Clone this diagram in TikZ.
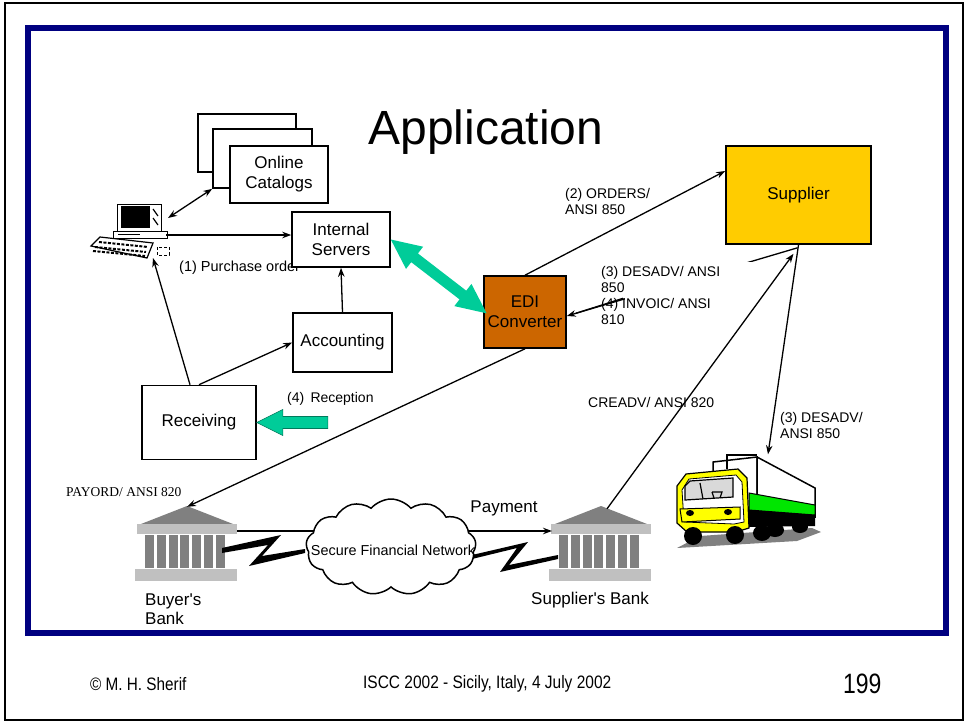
\documentclass[tikz,border=0pt]{standalone}
\usepackage{fontspec}
\setmainfont{Liberation Sans}
\newfontfamily\payfont{Liberation Serif}
\usetikzlibrary{arrows.meta,shapes.symbols,calc}
\definecolor{navyframe}{RGB}{0,0,128}
\definecolor{mint}{RGB}{0,204,153}
\definecolor{ediorange}{RGB}{204,102,0}
\definecolor{supyellow}{RGB}{255,204,0}
\definecolor{bankdark}{RGB}{128,128,128}
\definecolor{banklight}{RGB}{192,192,192}
\definecolor{truckgreen}{RGB}{0,230,0}
\definecolor{truckyellow}{RGB}{255,255,0}
\begin{document}
\begin{tikzpicture}[x=1pt,y=-1pt,
  box/.style={draw, line width=1.6, fill=white, inner sep=0, align=center,
    font=\fontsize{17}{20}\selectfont},
  lbl/.style={inner sep=0, anchor=west, align=left, font=\fontsize{14}{16}\selectfont},
  conn/.style={line width=1.3, -{Stealth[length=9,width=6.5]}},
  biconn/.style={line width=1.3, {Stealth[length=9,width=6.5]}-{Stealth[length=9,width=6.5]}},
  icon/.style={inner sep=0, minimum width=#1},
  bankicon/.pic={
    \fill[bankdark] (0,-39) -- (-46,-21) -- (46,-21) -- cycle;
    \fill[banklight] (-50,-21) rectangle (50,-11);
    \foreach \i in {0,...,6}
      \fill[bankdark] ({-42+\i*11.8},-10) rectangle ({-33+\i*11.8},23);
    \fill[banklight] (-52,24) rectangle (50,36);
  }]
\useasboundingbox (0,0) rectangle (966,723);
\fill[white] (0,0) rectangle (966,723);

% slide frames
\draw[line width=2.5] (5,3) rectangle (963,720);
\draw[navyframe, line width=6] (28,28) rectangle (946,633);

% title
\node[font=\fontsize{48}{52}\selectfont] (title) at (486,132) {Application};

% online catalog stack
\node[box, minimum width=98, minimum height=58] (cat3) at (247,143) {};
\node[box, minimum width=99, minimum height=59] (cat2) at (262.5,158.5) {};
\node[box, minimum width=98, minimum height=57] (cat1) at (279,174.5) {Online\\Catalogs};

% purchase order label sits under the server box
\node[lbl, font=\fontsize{14.5}{16}\selectfont] (polbl) at (179,268) {(1) Purchase order};

% boxes
\node[box, minimum width=98, minimum height=55] (srv) at (341,239.5) {Internal\\Servers};
\node[box, minimum width=99, minimum height=59] (acc) at (342.5,342.5) {Accounting};
\node[box, minimum width=114, minimum height=74] (rcv) at (199,422.5) {Receiving};
\node[box, fill=ediorange, minimum width=82, minimum height=72] (edi) at (525,312) {EDI\\Converter};
\node[box, fill=supyellow, minimum width=145, minimum height=98] (sup) at (798.5,195) {Supplier};

% desktop computer
\node[icon=80, minimum height=56] (pc) at (130,231) {};
\filldraw[fill=white, line width=1] (117,204) rectangle (161,231);
\fill (121,206) rectangle (150,228);
\draw[line width=1.2] (153,209) -- (158,216) (153,218) -- (158,225);
\filldraw[fill=white, line width=1] (113,231) rectangle (167,238);
\draw[line width=1] (118,234) -- (140,234);
\filldraw[fill=white, line width=1.2] (91,246) -- (100,237) -- (153,243) -- (147,258) -- cycle;
\draw[line width=2, dash pattern=on 3 off 1.5] (99,242) -- (148,247) (95,247) -- (146,252) (93,251) -- (145,256);
\draw[line width=1, densely dashed] (157,247) rectangle (169,255);
\coordinate (pcCat) at (168,218);
\coordinate (pcSrv) at (166,235);
\coordinate (pcIn) at (153,258);

% connectors around the buyer
\draw[biconn] (pcCat) -- (cat2.south west);
\draw[conn] (pcSrv) -- (pcSrv -| srv.west);
\draw[conn] (acc.north) -- (srv.south);
\draw[conn] ($(rcv.north)+(-9,0)$) -- (pcIn);
\draw[conn] (rcv.north) -- (acc.west);

% reception arrow
\fill[mint, draw=mint!60!black, line width=0.6]
  (rcv.east) -- ++(26,-13) -- ++(0,7) -- ++(45,0) -- ++(0,12) -- ++(-45,0) -- ++(0,7) -- cycle;
\node[lbl] (reclbl) at (287,399) {(4)\, Reception};

% server <-> converter link
\begin{scope}[shift={(srv.east)}, rotate=-37.6]
  \fill[mint] (0,0) -- (30,-14) -- (30,-5.5) -- (91,-5.5) -- (91,-14) -- (121,0)
    -- (91,14) -- (91,5.5) -- (30,5.5) -- (30,14) -- cycle;
\end{scope}

% EDI messages
\draw[conn] (edi.north) -- ($(sup.west)+(0,-24)$);
\node[lbl] (ordlbl) at (565,201) {(2) ORDERS/\\ANSI 850};
\coordinate (supOut) at ($(sup.south)+(-1,3)$);
\draw[conn] (supOut) -- ($(edi.east)+(0,4)$);
\fill[white] (625,262) rectangle (756,330);
\node[lbl] (invlbl) at (601,295.5) {(3) DESADV/ ANSI\\850\\(4) INVOIC/ ANSI\\810};
\draw[line width=1.3] (623,298.3) -- ($(edi.east)+(9,1.3)$);

% banks
\node[icon=104, minimum height=76] (bbank) at (187,545) {};
\pic at (bbank.center) {bankicon};
\node[icon=104, minimum height=76] (sbank) at (601,545) {};
\pic at (sbank.center) {bankicon};
\node[lbl, font=\fontsize{17}{19}\selectfont] (bblbl) at (145,609.5) {Buyer\textquotesingle s\\Bank};
\node[font=\fontsize{17}{19}\selectfont, inner sep=0] (sblbl) at (590,600) {Supplier\textquotesingle s Bank};

% truck
\node[icon=150, minimum height=95] (truck) at (748,502) {};
\fill[bankdark] (677,548) -- (797,541) -- (821,532) -- (812,528) -- (700,536) -- cycle;
\filldraw[fill=white, line width=1.5] (713,462) -- (757,457) -- (757,508) -- (713,508) -- cycle;
\filldraw[fill=white, line width=1.5] (757,457) -- (815,488) -- (815,517) -- (757,510) -- cycle;
\filldraw[fill=truckgreen, line width=1] (749,493) -- (815,505) -- (815,515) -- (749,510) -- cycle;
\fill (749,510) -- (815,515) -- (815,526) -- (749,527) -- cycle;
\fill (775,530) ellipse (9 and 7) (800,527) ellipse (8 and 6);
\fill (762,533) ellipse (9 and 8);
\filldraw[fill=truckyellow, line width=1.2] (677,486) -- (686,474) -- (738,469) -- (747,478) -- (749,528) -- (736,532) -- (687,532) -- (677,523) -- cycle;
\filldraw[fill=white, line width=0.8] (682,490) -- (689,479) -- (736,475) -- (742,482) -- (744,522) -- (734,524) -- (684,522) -- cycle;
\filldraw[fill=black!15, line width=1.2] (685,486) -- (690,481) -- (733,478) -- (733,497) -- (685,500) -- cycle;
\draw[line width=1.2] (700,483) -- (703,499) (712,492) -- (722,492) -- (720,498) (714,498) -- (712,492);
\filldraw[fill=truckyellow, line width=1] (680,509) -- (740,507) -- (740,519) -- (682,522) -- cycle;
\fill (690,513) ellipse (4 and 3) (728,512) ellipse (4 and 3);
\fill (693,536) ellipse (9 and 9) (735,535) ellipse (9 and 9);
\draw[line width=1.5] (727,469) -- (727,455) -- (757,455);

% message arrows to the supplier side
\draw[conn] (sup.south) -- ($(truck.north)+(20,0)$);
\node[lbl] (deslbl) at (780,425) {(3) DESADV/\\ANSI 850};
\node[lbl, font=\fontsize{14}{16}\selectfont] (crelbl) at (588,402) {CREADV/ ANSI 820};
\draw[conn] ($(sbank.north)+(6,2)$) -- ($(sup.south)+(-5,9)$);
\draw[conn] (edi.south) -- (bbank.north);
\node[lbl, font=\payfont\fontsize{13.5}{16}\selectfont] (paylbl) at (66,492) {PAYORD/ ANSI 820};

% payment over the secure network
\draw[conn] ($(bbank.center)+(50,-14)$) -- ($(sbank.center)+(-49,-14)$);
\node[font=\fontsize{17}{19}\selectfont, inner sep=0] (pmtlbl) at (504,508) {Payment};
\fill (222,548) -- (281,535) -- (262,556) -- (305,549) -- (305,553) -- (249,566) -- (268,545) -- (222,553) -- cycle;
\fill (472,555) -- (528,542) -- (509,565) -- (558,555) -- (558,559) -- (500,572) -- (517,548) -- (472,559) -- cycle;
\node[cloud, draw, fill=white, line width=1.5, cloud puffs=13, cloud puff arc=100,
  aspect=1.75, minimum width=170, minimum height=96, inner sep=0] (net) at (391,547) {};
\node[font=\fontsize{14.4}{16}\selectfont, inner sep=0] (netlbl) at (393,550) {Secure Financial Network};

% footer
\node[lbl, font=\fontsize{18}{19}\selectfont, xscale=0.85] (ftl) at (90,684) {\textcopyright\ M. H. Sherif};
\node[lbl, font=\fontsize{18}{20}\selectfont, xscale=0.86] (ftc) at (363,684) {ISCC 2002 - Sicily, Italy, 4 July 2002};
\node[lbl, font=\fontsize{28}{30}\selectfont, xscale=0.82] (ftr) at (843,684) {199};
\end{tikzpicture}
\end{document}
